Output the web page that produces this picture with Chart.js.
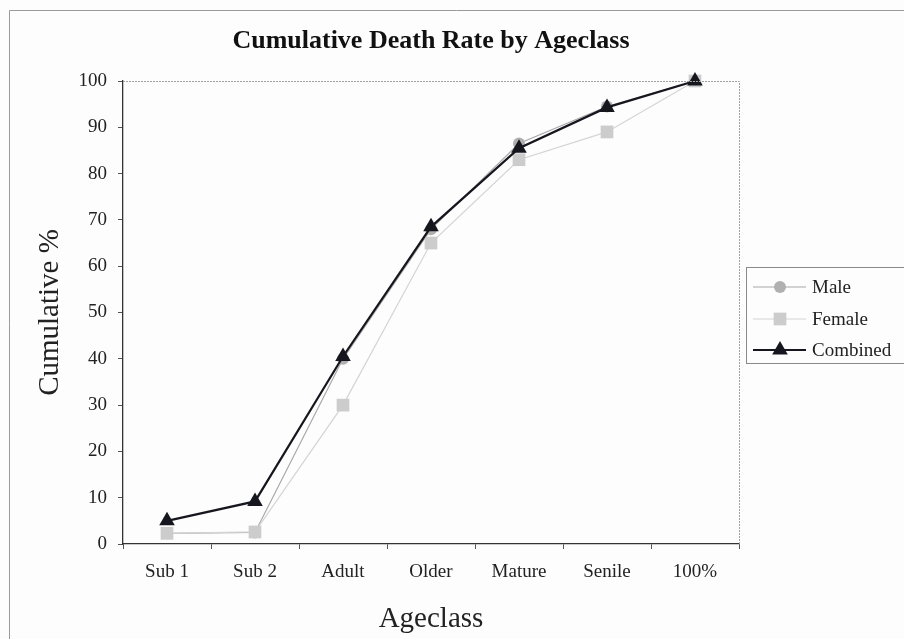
<!DOCTYPE html>
<html>
<head>
<meta charset="utf-8">
<script src="https://cdn.jsdelivr.net/npm/chart.js@4/dist/chart.umd.min.js"></script>
<style>
  html, body { margin: 0; padding: 0; background: #fdfdfd; }
  #wrap { width: 904px; height: 639px; position: relative; }
</style>
</head>
<body>
<div id="wrap"><canvas id="c" width="904" height="639"></canvas></div>
<script>
const chartTitle = 'Cumulative Death Rate by Ageclass';
const xTitle = 'Ageclass';
const yTitle = 'Cumulative %';
const categories = ['Sub 1', 'Sub 2', 'Adult', 'Older', 'Mature', 'Senile', '100%'];
const maleValues = [2.3, 2.5, 40, 68, 86.5, 94.5, 100];
const femaleValues = [2.3, 2.6, 30, 65, 83, 89, 100];
const combinedValues = [5, 9.2, 40.5, 68.5, 85.5, 94.3, 100];
const yTicks = [0, 10, 20, 30, 40, 50, 60, 70, 80, 90, 100];

const FONT = "'Liberation Serif', 'Times New Roman', serif";

function drawMarker(ctx, style, r, x, y) {
  if (style === 'circle') {
    ctx.arc(x, y, r, 0, Math.PI * 2);
  } else if (style === 'rect') {
    const s = r * Math.SQRT1_2;
    ctx.rect(x - s, y - s, 2 * s, 2 * s);
  } else if (style === 'triangle') {
    let rad = 0;
    ctx.moveTo(x + Math.sin(rad) * r, y - Math.cos(rad) * r);
    rad += 2 * Math.PI / 3;
    ctx.lineTo(x + Math.sin(rad) * r, y - Math.cos(rad) * r);
    rad += 2 * Math.PI / 3;
    ctx.lineTo(x + Math.sin(rad) * r, y - Math.cos(rad) * r);
    ctx.closePath();
  }
}

const decor = {
  id: 'decor',
  afterDraw(chart) {
    const ctx = chart.ctx;
    const a = chart.chartArea;
    ctx.save();
    // outer frame (left & top visible)
    ctx.strokeStyle = '#9a9a9a';
    ctx.lineWidth = 1;
    ctx.beginPath();
    ctx.moveTo(9.5, 639); ctx.lineTo(9.5, 10.5); ctx.lineTo(904, 10.5);
    ctx.stroke();
    // plot area top/right border (dotted grey)
    ctx.strokeStyle = '#a0a0a0';
    ctx.setLineDash([2, 1]);
    ctx.beginPath();
    ctx.moveTo(a.left, a.top + 0.5); ctx.lineTo(a.right + 0.5, a.top + 0.5); ctx.lineTo(a.right + 0.5, a.bottom);
    ctx.stroke();
    ctx.setLineDash([]);
    // title
    ctx.fillStyle = '#111';
    ctx.font = 'bold 26px ' + FONT;
    ctx.textAlign = 'center';
    ctx.textBaseline = 'middle';
    ctx.fillText(chartTitle, 431, 41);
    // legend
    const lx = 746, ly = 267, lw = 160, lh = 96;
    ctx.strokeStyle = '#8a8a8a';
    ctx.lineWidth = 1;
    ctx.strokeRect(lx + 0.5, ly + 0.5, lw, lh);
    const rowsY = [287, 319, 350];
    [0, 1, 2].forEach((di, i) => {
      const ds = chart.data.datasets[di];
      const y = rowsY[i];
      ctx.strokeStyle = ds.borderColor;
      ctx.lineWidth = ds.borderWidth;
      ctx.beginPath();
      ctx.moveTo(753, y); ctx.lineTo(806, y);
      ctx.stroke();
      ctx.fillStyle = ds.pointBackgroundColor;
      ctx.beginPath();
      drawMarker(ctx, ds.pointStyle, ds.pointRadius, 780, y);
      ctx.fill();
      ctx.fillStyle = '#222';
      ctx.font = '19px ' + FONT;
      ctx.textAlign = 'left';
      ctx.textBaseline = 'middle';
      ctx.fillText(ds.label, 812, y + 1);
    });
    ctx.restore();
  }
};

new Chart(document.getElementById('c'), {
  type: 'line',
  data: {
    labels: categories,
    datasets: [
      {
        label: 'Male', data: maleValues, order: 2,
        borderColor: '#a8a8a8', borderWidth: 1.2,
        pointStyle: 'circle', pointRadius: 6,
        pointBackgroundColor: '#b0b0b0', pointBorderColor: '#b0b0b0', pointBorderWidth: 0,
        tension: 0, clip: false
      },
      {
        label: 'Female', data: femaleValues, order: 1,
        borderColor: '#d4d4d4', borderWidth: 1.2,
        pointStyle: 'rect', pointRadius: 9,
        pointBackgroundColor: '#cccccc', pointBorderColor: '#cccccc', pointBorderWidth: 0,
        tension: 0, clip: false
      },
      {
        label: 'Combined', data: combinedValues, order: 0,
        borderColor: '#16161e', borderWidth: 2.2,
        pointStyle: 'triangle', pointRadius: 9,
        pointBackgroundColor: '#16161e', pointBorderColor: '#16161e', pointBorderWidth: 0,
        tension: 0, clip: false
      }
    ]
  },
  options: {
    responsive: false,
    animation: false,
    devicePixelRatio: 1,
    layout: { padding: { left: 0, right: 165, top: 81, bottom: 0 } },
    plugins: {
      legend: { display: false },
      title: { display: false },
      tooltip: { enabled: false }
    },
    scales: {
      x: {
        type: 'category',
        offset: true,
        grid: { offset: true, drawOnChartArea: false, drawTicks: true, tickLength: 5, color: '#555' },
        border: { display: true, color: '#333', width: 1.3 },
        ticks: { color: '#222', font: { family: FONT, size: 19 }, padding: 12, maxRotation: 0 },
        title: { display: true, text: xTitle, color: '#222', font: { family: FONT, size: 29 }, padding: { top: 0, bottom: 2 } },
        afterFit(s) { s.height = 95; }
      },
      y: {
        min: 0, max: 100,
        afterBuildTicks(s) { s.ticks = yTicks.map(v => ({ value: v })); },
        grid: { drawOnChartArea: false, drawTicks: true, tickLength: 5, color: '#555' },
        border: { display: true, color: '#333', width: 1.3 },
        ticks: { color: '#222', font: { family: FONT, size: 19 }, padding: 11 },
        title: { display: true, text: yTitle, color: '#222', font: { family: FONT, size: 29 }, padding: { top: 33, bottom: 0 } },
        afterFit(s) { s.width = 123; }
      }
    }
  },
  plugins: [decor]
});
</script>
</body>
</html>
